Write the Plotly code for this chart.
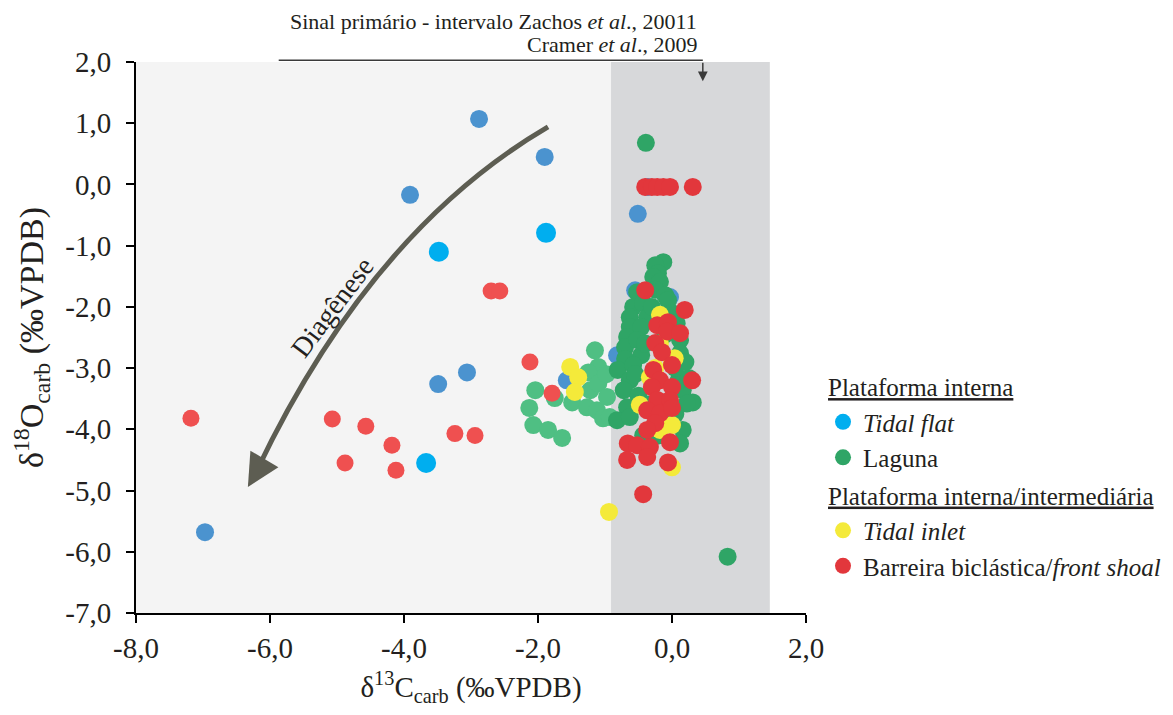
import plotly.graph_objects as go

# ---------------- data (δ13C, δ18O) ----------------
tidal_flat_x = [-3.48, -1.88, -3.67]
tidal_flat_y = [-1.10, -0.79, -4.55]

blue_other_x = [-2.88, -1.90, -3.91, -3.49, -3.06, -6.97, -0.51, -0.36, -0.55, -0.82, -1.57, -0.03]
blue_other_y = [1.07, 0.45, -0.17, -3.26, -3.07, -5.68, -0.48, -0.04, -1.73, -2.79, -3.20, -1.84]

laguna_x = [-0.39, 0.83, -0.13, -0.25, -0.21, -0.28, -0.18, -0.25, -0.10, -0.06, -0.52, -0.58,
            -0.63, -0.63, -0.67, -0.70, -0.43, -0.37, -0.46, -0.52, 0.00, 0.07, 0.12, 0.12,
            -0.46, -0.70, -0.81, -0.63, -0.58, -0.72, -0.67, -0.82, -0.63, -0.43, 0.16, 0.31,
            0.22, 0.16, 0.12, 0.10, 0.25, -0.50, -0.40, -0.30, 0.05, -0.10, -0.55, -0.35,
            -0.20, 0.05, 0.20]
laguna_y = [0.68, -6.08, -1.27, -1.32, -1.45, -1.51, -1.59, -1.72, -1.81, -1.89, -1.76, -2.00,
            -2.17, -2.33, -2.49, -2.66, -1.94, -2.17, -2.33, -2.54, -2.10, -2.27, -2.54, -2.76,
            -2.79, -2.85, -3.03, -3.20, -2.95, -3.36, -3.64, -3.85, -3.80, -4.10, -3.36, -3.56,
            -3.58, -4.01, -4.23, -3.20, -3.16, -3.45, -2.60, -2.00, -3.00, -2.45, -3.10, -3.60,
            -4.10, -3.75, -2.90]

laguna_light_x = [-2.04, -2.13, -2.07, -1.85, -1.64, -1.75, -1.49, -1.15, -1.10, -1.25, -1.22,
                  -1.27, -1.12, -1.03, -1.10, -0.97, -0.93, -0.98]
laguna_light_y = [-3.36, -3.65, -3.93, -4.01, -4.14, -3.49, -3.56, -2.71, -2.98, -3.07, -3.36,
                  -3.64, -3.69, -3.82, -3.25, -3.47, -3.80, -3.10]

tidal_inlet_x = [-1.52, -1.40, -1.45, -0.94, 0.00, 0.00, -0.48, 0.00, -0.18, -0.18, 0.04, -0.33,
                 -0.18, -0.25]
tidal_inlet_y = [-2.98, -3.15, -3.39, -5.35, -4.62, -3.93, -3.60, -2.90, -2.13, -2.60, -2.84, -3.15,
                 -4.01, -3.00]

barreira_x = [-0.40, -0.30, -0.22, -0.13, -0.03, 0.31, -0.40, 0.19, -0.22, -0.06, -0.07, 0.12,
              -0.25, -0.15, 0.00, -0.28, -0.18, 0.30, 0.00, -0.30, -0.22, -0.03, -0.37, -0.18,
              0.00, -0.25, -0.37, -0.66, -0.52, -0.33, -0.37, -0.67, -0.03, -0.06, -0.43]
barreira_y = [-0.04, -0.04, -0.04, -0.04, -0.04, -0.04, -1.73, -2.05, -2.30, -2.25, -2.40, -2.43,
              -2.59, -2.74, -2.95, -3.03, -3.20, -3.20, -3.31, -3.31, -3.52, -3.52, -3.69, -3.74,
              -3.65, -3.90, -4.01, -4.23, -4.26, -4.29, -4.45, -4.50, -4.21, -4.54, -5.06]

barreira_light_x = [-7.18, -5.07, -4.57, -4.18, -4.88, -4.12, -3.24, -2.94, -2.70, -2.57, -2.12, -1.79]
barreira_light_y = [-3.82, -3.83, -3.95, -4.26, -4.55, -4.67, -4.07, -4.10, -1.74, -1.74, -2.90, -3.41]

x_ticks = [-8, -6, -4, -2, 0, 2]
x_tick_labels = ["-8,0", "-6,0", "-4,0", "-2,0", "0,0", "2,0"]
y_ticks = [2, 1, 0, -1, -2, -3, -4, -5, -6, -7]
y_tick_labels = ["2,0", "1,0", "0,0", "-1,0", "-2,0", "-3,0", "-4,0", "-5,0", "-6,0", "-7,0"]
primary_band = [-0.91, 1.46]

FONT = "Liberation Serif"
TXT = "#231f20"

fig = go.Figure()

def add(x, y, color, size, name=None, show=False, group=None, gtitle=None, rank=1000):
    fig.add_trace(go.Scatter(
        x=x, y=y, mode="markers",
        marker=dict(color=color, size=size, line=dict(width=0)),
        name=name if name else "", showlegend=show,
        legendgroup=group, legendrank=rank,
        legendgrouptitle=dict(text=gtitle) if gtitle else None,
        hoverinfo="x+y",
    ))

add(blue_other_x, blue_other_y, "#4b93cf", 18)
add(laguna_light_x, laguna_light_y, "#4fbf83", 18)
add(laguna_x, laguna_y, "#2fa566", 18, "Laguna", True, "g1", rank=2)
add(tidal_inlet_x, tidal_inlet_y, "#f4ea3a", 18, "<i>Tidal inlet</i>", True, "g2",
    "<u>Plataforma interna/intermediária</u>", rank=3)
add(barreira_light_x, barreira_light_y, "#ef5050", 17)
add(barreira_x, barreira_y, "#e2373c", 18, "Barreira biclástica/<i>front shoal</i>", True, "g2", rank=4)
add(tidal_flat_x, tidal_flat_y, "#00aeef", 20, "<i>Tidal flat</i>", True, "g1",
    "<u>Plataforma interna</u>", rank=1)

# background bands
fig.add_shape(type="rect", x0=-8, x1=primary_band[0], y0=-7, y1=2, fillcolor="#f4f4f4",
              line_width=0, layer="below")
fig.add_shape(type="rect", x0=primary_band[0], x1=primary_band[1], y0=-7, y1=2,
              fillcolor="#d7d8da", line_width=0, layer="below")

# top reference line + arrow
fig.add_shape(type="line", xref="x", yref="paper", x0=-5.87, x1=0.46, y0=1.003, y1=1.003,
              line=dict(color="#3a3a3a", width=1.5), layer="above")
fig.add_annotation(x=0.46, y=0.965, xref="x", yref="paper", ax=0, ay=-20,
                   showarrow=True, arrowhead=2, arrowsize=1.3, arrowwidth=1.5,
                   arrowcolor="#3a3a3a", text="")
fig.add_annotation(x=0.40, y=1.0726, xref="x", yref="paper", xanchor="right", yanchor="middle",
                   text="Sinal primário - intervalo Zachos <i>et al</i>., 20011", showarrow=False,
                   font=dict(family=FONT, size=22, color=TXT))
fig.add_annotation(x=0.40, y=1.031, xref="x", yref="paper", xanchor="right", yanchor="middle",
                   text="Cramer <i>et al</i>., 2009", showarrow=False,
                   font=dict(family=FONT, size=22, color=TXT))

# diagenesis curved arrow
fig.add_shape(type="path", path="M -1.85,0.94 Q -4.49,-0.75 -6.20,-4.68",
              line=dict(color="#5d5d52", width=5), layer="above")
fig.add_annotation(x=-6.33, y=-4.94, ax=-6.12, ay=-4.55, axref="x", ayref="y",
                   xref="x", yref="y", showarrow=True, arrowhead=2, arrowsize=1.3,
                   arrowwidth=5, arrowcolor="#5d5d52", text="")
fig.add_annotation(x=-5.06, y=-2.0, xref="x", yref="y", text="Diagênese", textangle=-53,
                   showarrow=False, font=dict(family=FONT, size=28, color=TXT))

fig.update_layout(
    width=1157, height=699,
    margin=dict(l=128, r=359, t=54, b=94, autoexpand=False),
    paper_bgcolor="white", plot_bgcolor="white",
    font=dict(family=FONT, color=TXT, size=20),
    legend=dict(x=1.0254, y=0.4527, xanchor="left", yanchor="top",
                font=dict(family=FONT, size=25, color=TXT),
                grouptitlefont=dict(family=FONT, size=25, color=TXT),
                traceorder="grouped", tracegroupgap=2, itemsizing="trace",
                bgcolor="rgba(0,0,0,0)"),
    showlegend=True,
)
fig.update_xaxes(range=[-8, 2], tickvals=x_ticks, ticktext=x_tick_labels, showgrid=False,
                 zeroline=False, showline=True, linecolor="black", linewidth=2,
                 ticks="outside", ticklen=8, tickwidth=2, tickcolor="black",
                 tickfont=dict(family=FONT, size=29, color=TXT),
                 title=dict(text="δ<sup>13</sup>C<sub>carb</sub> (‰VPDB)",
                            font=dict(family=FONT, size=29, color=TXT), standoff=28))
fig.update_yaxes(range=[-7, 2], tickvals=y_ticks, ticktext=y_tick_labels, showgrid=False,
                 zeroline=False, showline=True, linecolor="black", linewidth=2,
                 ticks="outside", ticklen=8, tickwidth=2, tickcolor="black",
                 ticklabelstandoff=9,
                 tickfont=dict(family=FONT, size=29, color=TXT),
                 title=dict(text="δ<sup>18</sup>O<sub>carb</sub> (‰VPDB)",
                            font=dict(family=FONT, size=34, color=TXT), standoff=13))

fig.write_html("out.html")
